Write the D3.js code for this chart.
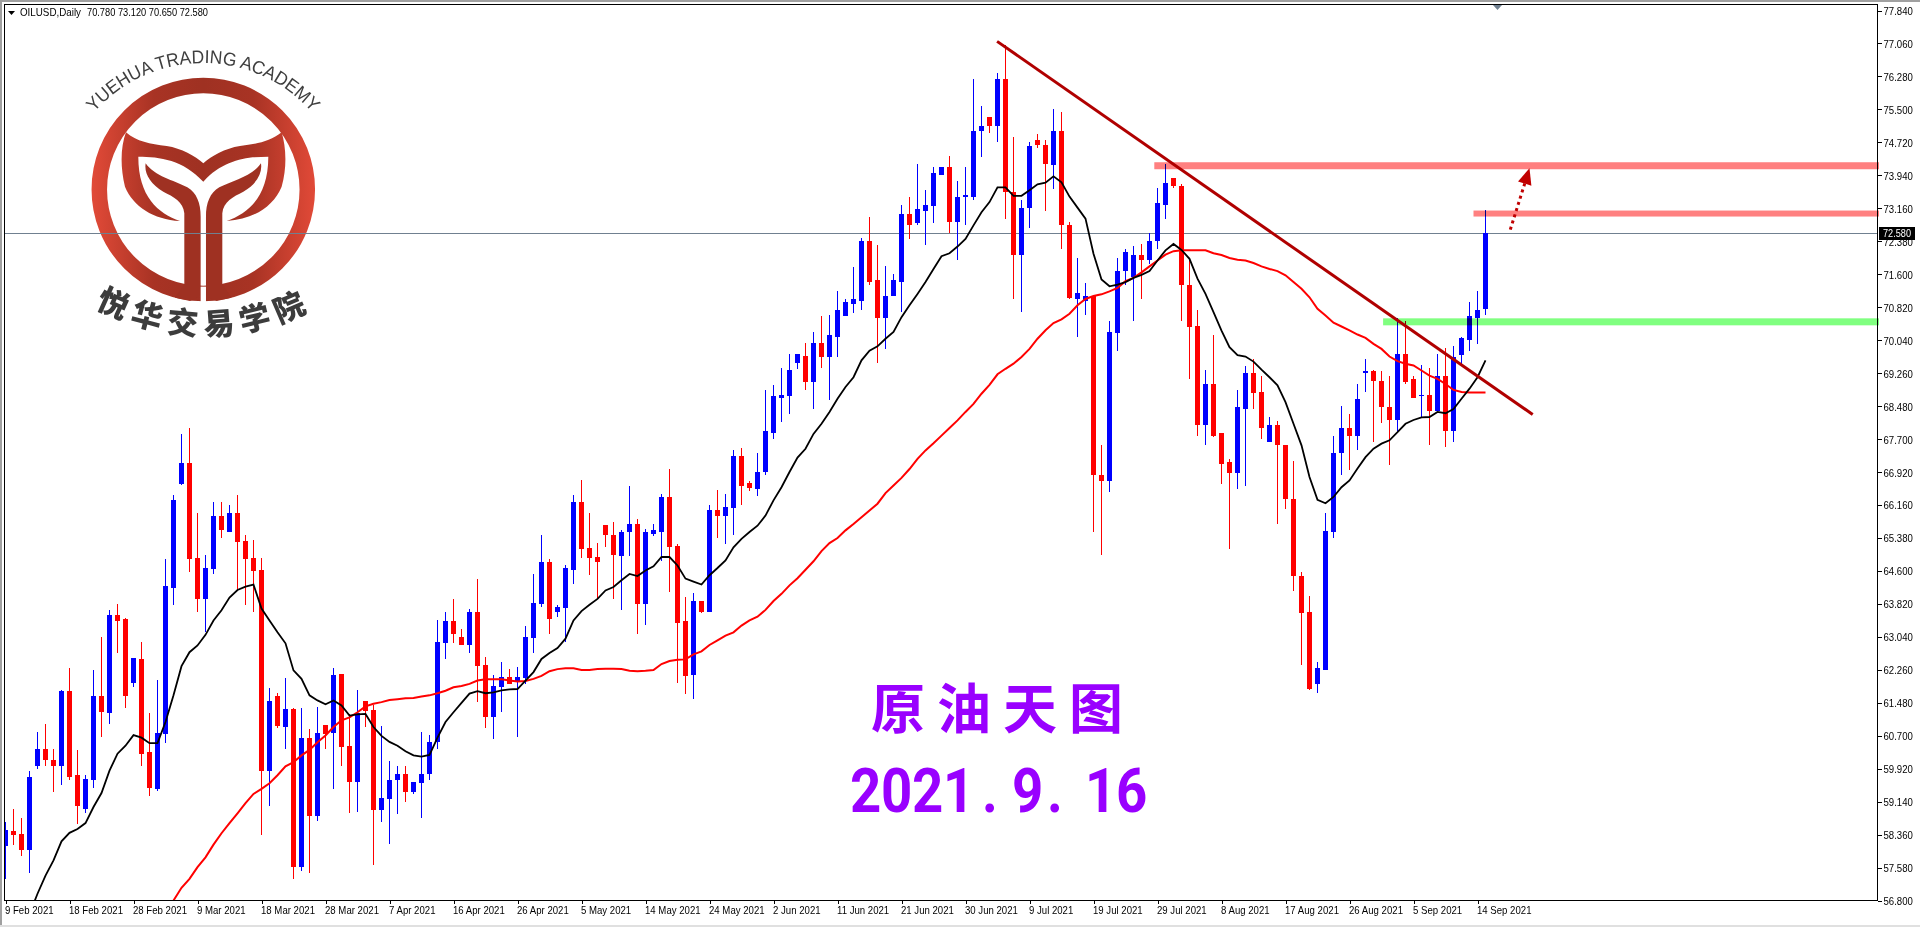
<!DOCTYPE html>
<html><head><meta charset="utf-8">
<script src="https://cdn.jsdelivr.net/npm/d3@7/dist/d3.min.js"></script>
<style>
html,body{margin:0;padding:0;background:#fff;overflow:hidden}
svg{display:block}
text{font-family:"Liberation Sans",Arial,sans-serif}
.ax text{font-size:10.5px;fill:#000}
</style></head><body><svg id="c" width="1920" height="927"></svg>
<script>
const opens=[58.08,58.45,58.38,58.00,59.99,60.39,60.13,59.99,61.75,59.76,
58.96,59.66,61.63,61.24,63.55,63.46,61.94,62.52,60.30,59.43,
60.74,64.19,66.65,67.15,64.89,63.93,64.63,65.90,65.52,65.95,
65.29,64.89,64.61,59.85,61.63,60.91,61.33,57.60,60.65,58.79,
60.95,60.76,62.15,60.46,59.59,61.51,61.31,58.94,59.20,59.64,
59.80,59.36,59.57,59.78,60.55,62.88,63.41,63.02,62.85,63.62,
62.36,61.14,61.84,62.08,61.96,62.06,63.00,63.81,64.80,63.62,
63.72,64.61,66.21,65.13,64.92,65.67,65.45,64.94,65.50,65.71,
63.81,65.47,65.50,66.34,65.18,63.40,62.13,63.88,63.62,66.02,
65.88,66.09,67.30,66.67,66.53,66.92,67.86,68.69,68.72,69.50,
69.68,69.05,69.99,69.66,70.11,70.61,70.91,70.98,72.38,71.46,
70.58,71.10,71.43,73.02,72.81,73.11,73.23,73.94,74.13,72.83,
73.42,73.44,74.98,75.33,75.11,76.23,73.56,72.07,73.16,74.79,
74.67,74.18,75.00,72.78,71.03,70.98,71.10,66.87,66.71,70.21,
71.67,71.53,72.07,71.93,72.38,73.25,73.89,73.70,71.36,70.37,
68.05,69.02,67.86,67.16,66.90,68.43,69.28,68.81,67.65,68.05,
67.58,66.28,64.46,63.61,61.91,62.26,65.50,67.37,67.96,67.77,
69.26,69.31,69.09,68.46,68.17,69.71,69.12,68.72,68.76,68.38,
69.21,67.91,69.69,70.06,70.58,70.78];
const closes=[58.46,58.35,58.00,59.73,60.39,60.11,59.99,61.75,59.73,59.03,
59.68,61.63,61.26,63.55,63.41,61.63,62.53,60.27,59.46,60.76,
64.24,66.27,67.15,64.87,63.93,64.66,65.90,65.55,65.95,65.27,
64.87,64.59,59.85,61.51,60.93,61.33,57.60,60.65,58.79,60.76,
60.74,62.13,60.42,59.59,61.24,61.28,58.94,59.22,59.66,59.78,
59.36,59.59,59.80,60.55,62.90,63.41,63.11,62.85,63.62,62.34,
61.14,61.87,62.08,61.91,62.08,63.02,63.84,64.80,63.46,63.74,
64.66,66.21,65.11,64.89,64.80,65.43,64.96,65.52,65.71,63.81,
65.50,65.55,66.34,65.15,63.35,62.10,63.88,63.62,66.02,65.88,
66.11,67.30,66.60,66.56,66.93,67.89,68.72,68.74,69.35,69.71,
69.05,69.99,69.66,70.16,70.77,70.94,71.01,72.38,71.43,70.58,
71.08,71.48,73.02,72.78,73.14,73.25,73.99,74.13,72.83,73.44,
73.49,75.00,75.12,75.11,76.21,73.54,72.05,73.18,74.63,74.65,
74.20,75.00,72.76,71.05,71.17,71.10,66.85,66.71,70.23,71.69,
72.14,72.07,71.93,72.40,73.28,73.77,73.68,71.34,70.35,68.05,
69.02,67.79,67.13,66.90,68.46,69.28,68.79,67.98,68.05,67.56,
66.28,64.46,63.59,61.79,62.29,65.53,67.39,67.96,67.77,68.65,
69.31,69.07,68.46,68.17,69.71,69.05,68.69,68.76,68.38,69.21,
67.91,69.66,70.09,70.61,70.77,72.58];
const highs=[58.65,58.96,58.75,59.85,60.79,60.98,60.37,61.77,62.29,60.35,
59.76,62.25,63.02,63.67,63.81,63.48,62.54,62.92,61.24,62.01,
64.87,66.39,67.83,67.97,65.97,64.96,66.21,66.23,66.14,66.39,
65.43,65.33,64.89,61.82,61.70,62.06,61.35,61.35,60.86,61.38,
60.95,62.29,62.15,61.21,61.77,61.51,61.41,60.93,60.09,59.97,
59.99,59.61,60.79,60.72,63.43,63.62,63.93,63.21,63.69,64.40,
62.56,62.12,62.45,62.27,62.32,63.30,64.51,65.45,64.87,63.79,
64.73,66.39,66.74,65.97,65.25,65.67,65.74,65.57,66.60,65.81,
65.59,65.69,66.41,67.00,65.22,63.98,64.07,63.88,66.14,66.51,
66.41,67.44,67.49,66.72,67.37,68.86,68.98,69.38,69.73,69.71,
69.97,70.25,70.61,70.63,71.22,71.03,71.77,72.47,72.97,72.29,
71.81,71.60,73.25,73.44,74.22,73.59,74.15,74.15,74.41,73.80,
74.13,76.21,75.59,75.33,76.37,77.03,74.84,73.35,74.74,74.91,
74.79,75.50,75.43,72.83,72.00,71.39,71.10,67.58,70.49,72.00,
72.19,72.28,72.31,72.57,73.65,74.22,73.89,73.73,71.93,70.77,
69.33,70.16,67.86,67.23,68.86,69.43,69.59,69.19,68.24,68.13,
67.58,67.20,64.56,64.01,62.43,65.97,67.77,68.50,68.29,69.02,
69.59,69.33,69.31,69.21,70.56,70.51,69.21,69.45,69.40,69.71,
69.85,69.92,70.13,70.94,71.20,73.12];
const lows=[57.31,58.12,57.86,57.45,59.90,59.97,59.36,59.53,59.66,58.61,
58.86,59.46,60.67,60.98,62.64,61.35,61.84,59.97,59.27,59.38,
60.53,63.79,66.63,64.56,63.62,63.14,64.51,65.38,65.52,64.14,
63.79,63.62,58.34,59.03,60.88,60.37,57.30,57.49,57.46,58.68,
60.39,59.43,59.97,58.86,58.89,60.91,57.65,58.65,58.14,58.84,
59.12,59.31,58.75,59.66,60.39,62.52,62.88,62.83,62.66,61.49,
60.88,60.62,61.26,61.91,60.67,61.92,62.66,63.74,63.09,63.51,
62.92,64.29,64.89,64.49,63.93,65.15,63.93,63.67,64.94,63.09,
63.32,65.41,64.82,64.10,61.94,61.68,61.56,63.60,63.62,65.38,
65.22,65.43,66.14,66.48,66.37,66.85,67.72,68.12,68.29,69.37,
68.88,68.41,69.40,68.64,69.64,70.61,70.68,70.75,71.36,69.50,
69.83,71.08,70.72,72.43,72.76,72.29,72.81,73.94,72.57,71.93,
72.76,73.35,74.37,74.94,74.73,72.90,71.03,70.72,72.69,74.60,
73.11,73.63,72.19,71.01,70.12,70.64,65.50,64.96,66.45,69.80,
71.34,70.51,71.03,71.84,72.21,72.90,73.65,70.51,69.14,67.79,
67.56,67.75,66.64,65.10,66.52,66.61,68.41,67.72,67.65,65.69,
66.05,64.11,62.36,61.77,61.70,62.24,65.36,66.87,66.97,67.46,
68.81,67.63,68.09,67.09,67.91,69.01,68.67,68.20,67.58,68.38,
67.51,67.63,69.49,69.78,69.95,70.65];
const maBlack=[null,null,null,56.48,56.96,57.39,57.75,58.20,58.40,58.49,
58.63,59.01,59.34,59.87,60.27,60.46,60.71,60.65,60.52,60.52,
61.02,61.65,62.34,62.67,62.83,63.08,63.42,63.66,63.96,64.14,
64.22,64.27,63.70,63.42,63.14,62.88,62.24,62.04,61.65,61.53,
61.44,61.53,61.41,61.17,61.20,61.21,60.90,60.69,60.55,60.46,
60.33,60.23,60.20,60.24,60.65,61.02,61.25,61.47,61.69,61.75,
61.70,61.72,61.77,61.79,61.80,62.00,62.20,62.51,62.65,62.77,
62.99,63.42,63.64,63.79,63.93,64.13,64.21,64.37,64.52,64.47,
64.60,64.70,64.92,64.92,64.72,64.41,64.34,64.27,64.49,64.66,
64.84,65.15,65.35,65.51,65.66,65.90,66.26,66.57,66.93,67.27,
67.48,67.83,68.07,68.35,68.66,68.94,69.17,69.57,69.80,69.90,
70.08,70.24,70.59,70.87,71.14,71.42,71.73,72.03,72.10,72.26,
72.44,72.76,73.07,73.31,73.66,73.66,73.46,73.46,73.59,73.73,
73.77,73.92,73.78,73.44,73.18,72.92,72.09,71.48,71.32,71.36,
71.42,71.52,71.59,71.68,71.93,72.17,72.32,72.18,71.97,71.50,
71.14,70.71,70.27,69.88,69.69,69.66,69.54,69.35,69.17,68.98,
68.58,68.07,67.56,66.81,66.27,66.19,66.34,66.57,66.73,67.01,
67.28,67.48,67.60,67.68,67.87,68.07,68.16,68.22,68.23,68.35,
68.32,68.42,68.66,68.90,69.17,69.57];
const maRed=[null,null,null,null,null,null,null,null,null,null,
null,null,null,null,null,null,null,null,null,null,
null,56.80,57.10,57.31,57.59,57.82,58.12,58.39,58.63,58.86,
59.10,59.32,59.44,59.57,59.76,59.97,60.07,60.23,60.36,60.54,
60.70,60.90,61.06,61.13,61.25,61.39,61.45,61.49,61.54,61.56,
61.58,61.59,61.62,61.65,61.70,61.76,61.84,61.87,61.92,62.00,
62.03,62.03,62.03,62.00,61.98,61.99,62.04,62.11,62.22,62.27,
62.29,62.29,62.25,62.25,62.27,62.28,62.28,62.27,62.23,62.22,
62.23,62.25,62.39,62.46,62.49,62.50,62.62,62.69,62.84,62.95,
63.06,63.14,63.30,63.42,63.51,63.67,63.88,64.05,64.25,64.42,
64.62,64.82,65.06,65.25,65.37,65.55,65.70,65.86,66.02,66.18,
66.43,66.61,66.79,67.00,67.24,67.44,67.61,67.79,67.97,68.15,
68.35,68.54,68.78,68.99,69.24,69.37,69.49,69.65,69.84,70.08,
70.28,70.45,70.54,70.67,70.87,71.02,71.09,71.13,71.20,71.28,
71.44,71.52,71.65,71.79,71.93,72.07,72.15,72.17,72.17,72.17,
72.17,72.10,72.06,71.99,71.95,71.93,71.87,71.79,71.73,71.68,
71.58,71.42,71.26,71.06,70.79,70.63,70.46,70.37,70.28,70.18,
70.10,69.96,69.84,69.66,69.55,69.49,69.45,69.33,69.21,69.13,
69.01,68.87,68.82,68.81,68.81,68.81];
const dateLabels=["9 Feb 2021","18 Feb 2021","28 Feb 2021","9 Mar 2021","18 Mar 2021","28 Mar 2021","7 Apr 2021","16 Apr 2021","26 Apr 2021","5 May 2021","14 May 2021","24 May 2021","2 Jun 2021","11 Jun 2021","21 Jun 2021","30 Jun 2021","9 Jul 2021","19 Jul 2021","29 Jul 2021","8 Aug 2021","17 Aug 2021","26 Aug 2021","5 Sep 2021","14 Sep 2021"];
const priceTicks=[77.84,77.06,76.28,75.50,74.72,73.94,73.16,72.38,71.60,70.82,70.04,69.26,68.48,67.70,66.92,66.16,65.38,64.60,63.82,63.04,62.26,61.48,60.70,59.92,59.14,58.36,57.58,56.80];
const lastPrice=72.58;
const title="OILUSD,Daily",titleValues="70.780 73.120 70.650 72.580";
const trendIdx=[123.95,190.9],trendPrice=[77.11,68.29];
const arrowIdx=[188.1,190.5],arrowPrice=[72.66,74.11];
const zoneStartIdx=[143.6,183.5,172.2],zonePrice=[74.17,73.04,70.48],zoneColor=["#ff8080","#ff8080","#80ff80"];

const svg=d3.select("#c");
const x=d3.scaleLinear().domain([0,185]).range([5.5,1485.5]);
const y=d3.scaleLinear().domain([56.8,77.84]).range([900.5,10.5]);
const R=1877.5,B=900.5,T=4.5,L=4.5;
const defs=svg.append("defs");
defs.append("clipPath").attr("id","plot").append("rect").attr("x",L).attr("y",T).attr("width",R-L).attr("height",B-T);
const gr=defs.append("linearGradient").attr("id","lg").attr("gradientUnits","userSpaceOnUse").attr("x1",91).attr("x2",316).attr("y1",0).attr("y2",0);
[[0,"#e24a38"],[.28,"#a83324"],[.5,"#9f3122"],[.72,"#a83324"],[1,"#e24a38"]].forEach(s=>gr.append("stop").attr("offset",s[0]).attr("stop-color",s[1]));

// window chrome
svg.append("rect").attr("width",1920).attr("height",2).attr("fill","#a0a0a0");
svg.append("rect").attr("width",2).attr("height",927).attr("fill","#a0a0a0");
svg.append("rect").attr("y",925).attr("width",1920).attr("height",2).attr("fill","#e0e0e0");

// logo
const logo=svg.append("g");
logo.append("circle").attr("cx",203.3).attr("cy",189.5).attr("r",104).attr("fill","none").attr("stroke","url(#lg)").attr("stroke-width",15.5);
const lg2=logo.append("g").attr("transform","scale(.3333)");
lg2.append("path").attr("fill","url(#lg2)").attr("d","M378,397 C410,425 450,432 500,438 C545,445 585,468 610,490 C635,468 675,445 720,438 C770,432 810,425 845,397 C858,440 862,500 845,560 C820,620 760,658 680,663 C745,640 805,590 805,470 C740,470 670,480 610,545 C550,480 480,470 415,470 C415,590 475,640 540,663 C460,658 400,620 375,560 C360,500 362,440 378,397Z");
const gr2=defs.append("linearGradient").attr("id","lg2").attr("gradientUnits","userSpaceOnUse").attr("x1",273).attr("x2",948).attr("y1",0).attr("y2",0);
[[0,"#e24a38"],[.28,"#a83324"],[.5,"#9f3122"],[.72,"#a83324"],[1,"#e24a38"]].forEach(s=>gr2.append("stop").attr("offset",s[0]).attr("stop-color",s[1]));
const trunk="M437,490 C465,530 520,540 562,562 C590,578 602,610 602,650 L602,875 Q600,895 570,903 L525,893 L553,853 L553,640 C550,605 520,590 490,575 C450,552 432,520 437,490Z";
lg2.append("path").attr("fill","#9f3122").attr("d",trunk);
lg2.append("path").attr("fill","#9f3122").attr("d",trunk).attr("transform","translate(1220,0) scale(-1,1)");
lg2.append("rect").attr("x",602).attr("y",860).attr("width",16).attr("height",50).attr("fill","#fff");
defs.append("path").attr("id","arcTop").attr("d","M91,116 A145,145 0 0 1 315,116");
logo.append("text").attr("fill","#3f3f3f").attr("font-size",18.5).append("textPath").attr("href","#arcTop").attr("startOffset",5).attr("textLength",246).attr("lengthAdjust","spacingAndGlyphs").text("YUEHUA TRADING ACADEMY");
defs.append("path").attr("id","arcBot").attr("d","M94,306 A230,230 0 0 0 318,306");
logo.append("text").attr("fill","#3c3c3c").attr("font-size",31).attr("font-weight",900).style("font-family","'Noto Sans CJK SC'").attr("letter-spacing",7).append("textPath").attr("href","#arcBot").attr("startOffset","1").text("悦华交易学院");

// purple captions
svg.append("text").attr("x",871).attr("y",729).attr("fill","#9900ff").attr("font-size",54).attr("font-weight",700).attr("letter-spacing",12).style("font-family","'Noto Sans CJK SC'").text("原油天图");
const capX=[850,881,912,943,982,1012,1047,1085,1116];
const cap=svg.append("g").attr("fill","#9900ff");
"2021.9.16".split("").forEach((c,i)=>cap.append("text").attr("transform",`translate(${capX[i]},812) scale(.88,1)`).attr("font-size",62).attr("font-weight",700).style("font-family","Roboto").text(c));

// zones
const plot=svg.append("g");
const n=opens.length, idx=d3.range(n);
const zones=plot.append("g");
zonePrice.forEach((p,i)=>zones.append("rect").attr("x",x(zoneStartIdx[i])).attr("width",1879-x(zoneStartIdx[i])).attr("y",y(p)-(i==1?3:3.5)).attr("height",i==1?6:7).attr("fill",zoneColor[i]).style("mix-blend-mode","multiply"));

// current price line
svg.append("line").attr("x1",L).attr("x2",R).attr("y1",Math.round(y(lastPrice))+.5).attr("y2",Math.round(y(lastPrice))+.5).attr("stroke","#708090");

// candles
const cg=svg.append("g").attr("clip-path","url(#plot)").attr("shape-rendering","crispEdges");
const col=i=>closes[i]>=opens[i]?"#0000ff":"#ff0000";
cg.selectAll("line.w").data(idx).join("line").attr("class","w").attr("x1",i=>x(i)).attr("x2",i=>x(i)).attr("y1",i=>y(highs[i])).attr("y2",i=>y(lows[i])).attr("stroke",col);
cg.selectAll("rect.b").data(idx).join("rect").attr("class","b").attr("x",i=>x(i)-2.5).attr("width",5).attr("y",i=>y(Math.max(opens[i],closes[i]))).attr("height",i=>Math.max(1,Math.abs(y(opens[i])-y(closes[i])))).attr("fill",col);
plot.raise();

// MAs
const mg=svg.append("g").attr("clip-path","url(#plot)");
const line=d3.line().defined(d=>d!=null).x((d,i)=>x(i)).y(d=>y(d));
mg.append("path").attr("d",line(maRed)).attr("fill","none").attr("stroke","#ff0000").attr("stroke-width",2);
mg.append("path").attr("d",line(maBlack)).attr("fill","none").attr("stroke","#000").attr("stroke-width",1.8);

// trend line
const tl=d3.line().x((d,i)=>x(trendIdx[i])).y((d,i)=>y(trendPrice[i]));
svg.append("path").attr("d",tl(trendIdx)).attr("stroke","#b00000").attr("stroke-width",3).attr("fill","none");

// arrow
const ax0=x(arrowIdx[0]),ay0=y(arrowPrice[0]),ax1=x(arrowIdx[1]),ay1=y(arrowPrice[1]);
const ang=Math.atan2(ay1-ay0,ax1-ax0),ux=Math.cos(ang),uy=Math.sin(ang);
svg.append("line").attr("x1",ax0).attr("y1",ay0).attr("x2",ax1-ux*12).attr("y2",ay1-uy*12).attr("stroke","#c00000").attr("stroke-width",3).attr("stroke-dasharray","3 3.5");
const bx=ax1-ux*16,by=ay1-uy*16;
svg.append("path").attr("fill","#c00000").attr("d",`M${ax1},${ay1}L${bx-uy*7},${by+ux*7}L${bx+uy*7},${by-ux*7}Z`);

// frame
svg.append("rect").attr("x",L).attr("y",T).attr("width",R-L).attr("height",B-T).attr("fill","none").attr("stroke","#000").attr("shape-rendering","crispEdges");
svg.append("path").attr("fill","#708090").attr("d",`M${x(186.5)-4.5},5H${x(186.5)+4.5}L${x(186.5)},10Z`);

// axes
const squeeze=sel=>sel.each(function(){const w=this.getComputedTextLength();this.setAttribute("textLength",(w*0.915).toFixed(1));this.setAttribute("lengthAdjust","spacingAndGlyphs");});
const yAxis=d3.axisRight(y).tickValues(priceTicks).tickSize(4).tickPadding(2).tickFormat(d3.format(".3f"));
const gy=svg.append("g").attr("class","ax").attr("transform",`translate(${R},0)`).call(yAxis);
gy.select(".domain").remove();
gy.selectAll("text").attr("dy","0.36em").call(squeeze);
const xAxis=d3.axisBottom(x).tickValues(dateLabels.map((d,i)=>i*8)).tickSize(3).tickPadding(2).tickFormat(d=>dateLabels[d/8]);
const gx=svg.append("g").attr("class","ax").attr("transform",`translate(0,${B})`).call(xAxis);
gx.select(".domain").remove();
gx.selectAll("text").attr("text-anchor","start").attr("dx",-1).attr("dy",0).attr("y",13).call(squeeze);
svg.selectAll(".ax line").attr("shape-rendering","crispEdges");

// last price tag
const ly=Math.round(y(lastPrice));
svg.append("rect").attr("x",1879).attr("y",ly-6).attr("width",36).attr("height",13).attr("fill","#000");
svg.append("text").attr("x",1883).attr("y",ly+4).attr("fill","#fff").attr("font-size",10.5).attr("textLength",28).attr("lengthAdjust","spacingAndGlyphs").text(d3.format(".3f")(lastPrice));

// header
svg.append("path").attr("d","M8,11H15L11.5,15Z").attr("fill","#000");
svg.append("text").attr("x",20).attr("y",16).attr("font-size",10.5).attr("textLength",61).attr("lengthAdjust","spacingAndGlyphs").attr("fill","#000").text(title);
svg.append("text").attr("x",87).attr("y",16).attr("font-size",10.5).attr("textLength",121).attr("lengthAdjust","spacingAndGlyphs").attr("fill","#000").text(titleValues);
</script></body></html>
